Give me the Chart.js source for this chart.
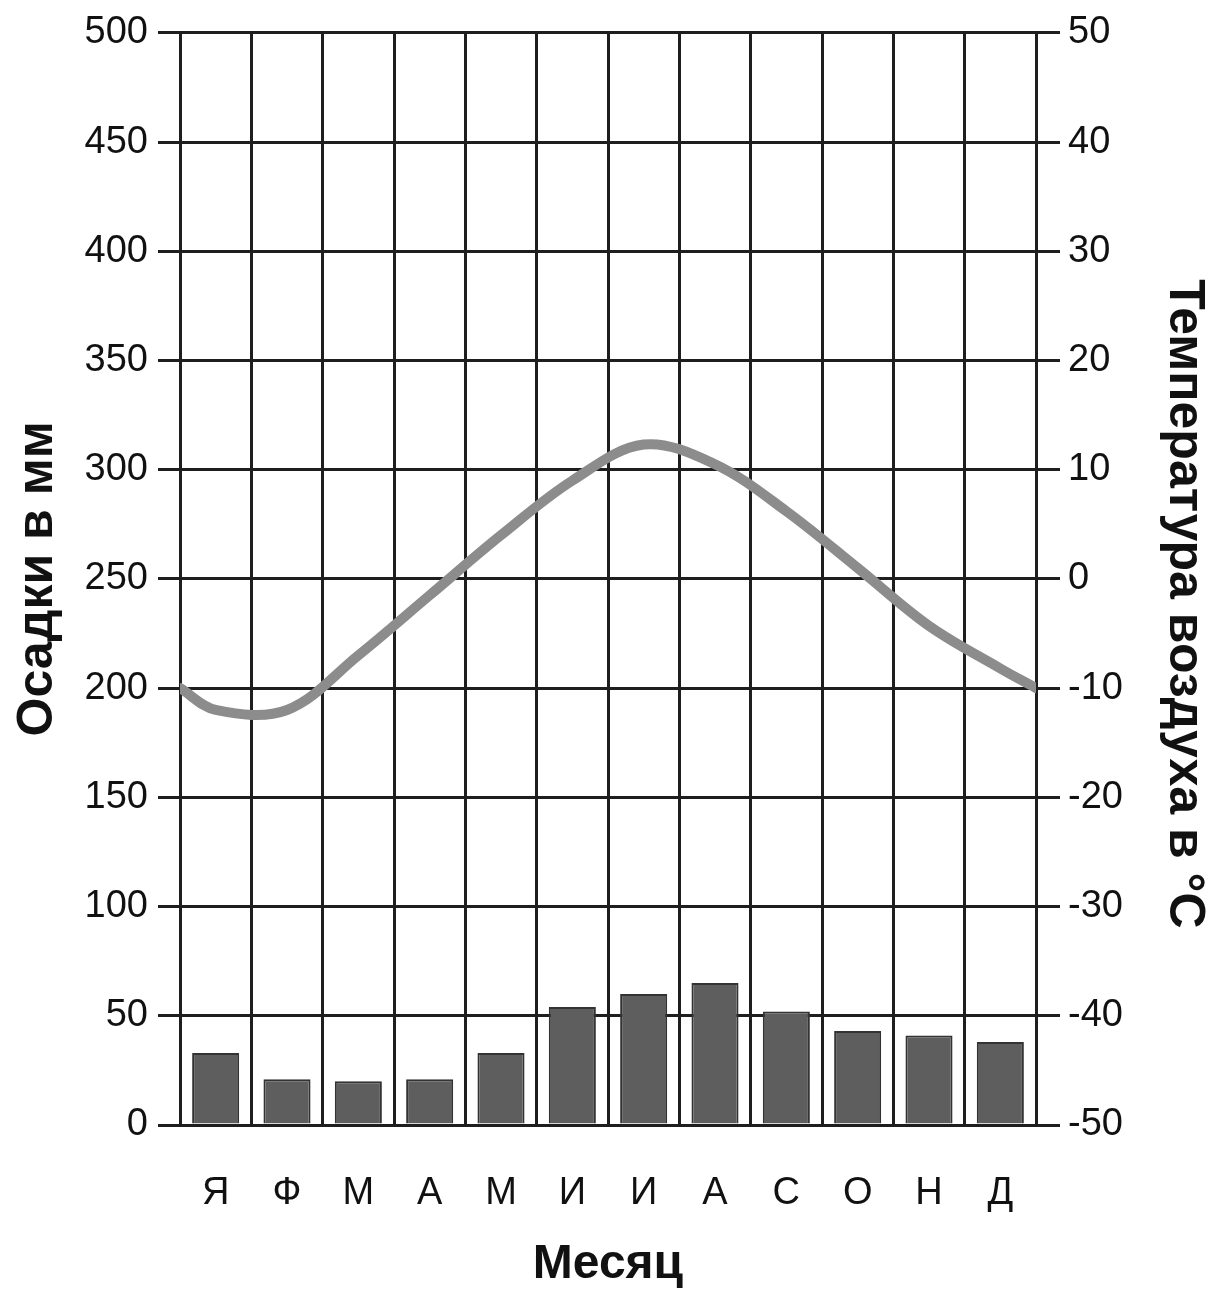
<!DOCTYPE html>
<html>
<head>
<meta charset="utf-8">
<script src="https://cdn.jsdelivr.net/npm/chart.js@4"></script>
<style>
  body { margin: 0; background: #fff; }
  #wrap { width: 1209px; height: 1289px; position: relative; }
</style>
</head>
<body>
<div id="wrap"><canvas id="chart"></canvas></div>
<script>
// months (Russian initials)
const months = ['Я', 'Ф', 'М', 'А', 'М', 'И', 'И', 'А', 'С', 'О', 'Н', 'Д'];
// precipitation, mm
const precipitation = [33, 21, 20, 21, 33, 54, 60, 65, 52, 43, 41, 38];
// air temperature, °C, at the middle of each month
const temperature = [-12, -12, -7, -1.5, 4, 9, 12.3, 10.5, 6.2, 1, -4.3, -8.2];
// temperature at the left and right edges of the year
const tempStart = -10;
const tempEnd = -10;

const FONT = '"Liberation Sans", Arial, sans-serif';
const gridColor = '#1e1e1e';

// the line runs edge to edge, so it goes on a hidden linear axis 0..12
const tempPoints = [{ x: 0, y: tempStart }]
  .concat(temperature.map((t, i) => ({ x: i + 0.5, y: t })))
  .concat([{ x: months.length, y: tempEnd }]);

new Chart(document.getElementById('chart'), {
  type: 'bar',
  data: {
    labels: months,
    datasets: [
      {
        type: 'line',
        data: tempPoints,
        xAxisID: 'x2',
        yAxisID: 'y2',
        borderColor: '#8c8c8c',
        borderWidth: 10,
        pointRadius: 0,
        tension: 0.35,
        borderCapStyle: 'round'
      },
      {
        type: 'bar',
        data: precipitation,
        xAxisID: 'x',
        yAxisID: 'y',
        grouped: false,
        backgroundColor: '#5e5e5e',
        borderColor: '#333',
        borderWidth: 2,
        categoryPercentage: 1,
        barPercentage: 0.66
      }
    ]
  },
  options: {
    responsive: true,
    maintainAspectRatio: false,
    animation: false,
    layout: { padding: { top: 30, left: 0, right: 0, bottom: 0 } },
    plugins: { legend: { display: false }, tooltip: { enabled: false } },
    scales: {
      x: {
        type: 'category',
        offset: true,
        grid: { color: gridColor, lineWidth: 3, drawTicks: false, offset: true },
        border: { color: gridColor, width: 3 },
        ticks: { color: '#111', padding: 46, font: { family: FONT, size: 38 } },
        title: {
          display: true, text: 'Месяц', color: '#111',
          font: { family: FONT, size: 48, weight: 'bold', lineHeight: 1 },
          padding: 0
        },
        afterFit: s => { s.height = 164; }
      },
      x2: { type: 'linear', min: 0, max: 12, offset: false, display: false },
      y: {
        position: 'left',
        min: 0, max: 500,
        ticks: { stepSize: 50, color: '#111', padding: 10, font: { family: FONT, size: 38 } },
        grid: { color: gridColor, lineWidth: 3, tickLength: 22 },
        border: { color: gridColor, width: 3 },
        title: {
          display: true, text: 'Осадки в мм', color: '#111',
          font: { family: FONT, size: 50, weight: 'bold', lineHeight: 1 },
          padding: { top: 13, bottom: 0 }
        },
        afterFit: s => { s.width = 180; }
      },
      y2: {
        position: 'right',
        min: -50, max: 50,
        ticks: { stepSize: 10, color: '#111', padding: 8, font: { family: FONT, size: 38 } },
        grid: { color: gridColor, lineWidth: 3, tickLength: 24, drawOnChartArea: false },
        border: { color: gridColor, width: 3 },
        title: {
          display: true, text: '\u2003Температура воздуха в °С', color: '#111',
          font: { family: FONT, size: 50, weight: 'bold', lineHeight: 1 },
          padding: { top: 0, bottom: 0 }
        },
        afterFit: s => { s.width = 173; }
      }
    }
  }
});
</script>
</body>
</html>
